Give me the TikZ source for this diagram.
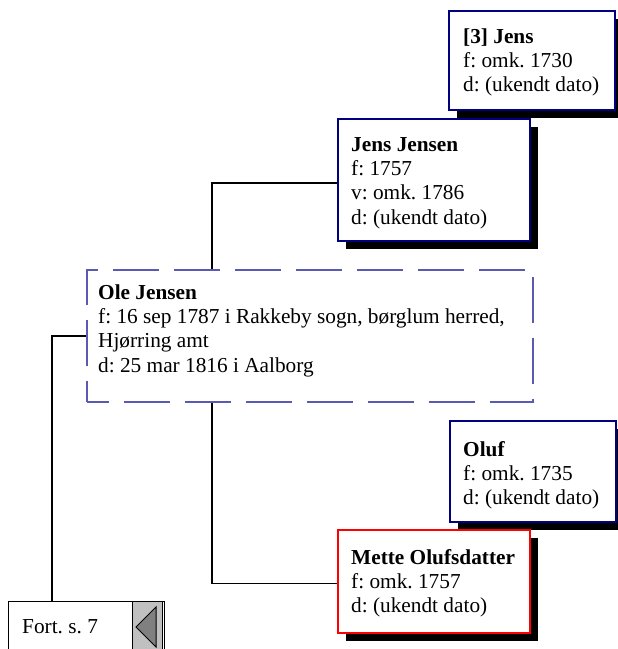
\documentclass[tikz,border=0pt]{standalone}
\usepackage{fontspec}
\setmainfont{Liberation Serif}
\usetikzlibrary{shadows}
\definecolor{navyb}{RGB}{0,0,128}
\definecolor{dashb}{RGB}{90,90,180}
\definecolor{redb}{RGB}{255,0,0}
\definecolor{btngrey}{RGB}{192,192,192}
\definecolor{trigrey}{RGB}{128,128,128}
\newcommand{\ptxt}[1]{\parbox[t]{460pt}{\frenchspacing\fontsize{21.3}{24.4}\selectfont #1}}
\begin{document}
\begin{tikzpicture}[x=1pt,y=-1pt,
  pbox/.style={rectangle, draw=navyb, line width=1.8pt, fill=white, inner sep=0pt, anchor=north west,
    drop shadow={shadow xshift=8pt, shadow yshift=-8pt, fill=black, opacity=1}},
  redbox/.style={pbox, draw=redb},
  dashbox/.style={rectangle, draw=dashb, line width=1.5pt, fill=white, inner sep=0pt, anchor=north west,
    dash pattern=on 46pt off 15pt, dash phase=24pt},
  ptext/.style={anchor=base west, inner sep=0pt},
  link/.style={draw=black, line width=1.5pt}]
\useasboundingbox (0,0) rectangle (618,649);

% boxes
\node[pbox, minimum width=166pt, minimum height=99pt] (b3) at (448,10) {};
\node[pbox, minimum width=192pt, minimum height=122pt] (jj) at (337,118) {};
\node[dashbox, minimum width=446pt, minimum height=132pt] (ole) at (86,269) {};
\node[pbox, minimum width=166pt, minimum height=101pt] (oluf) at (449,420) {};
\node[redbox, minimum width=192pt, minimum height=103pt] (mette) at (337,529) {};

% Fort. s. 7 box
\node[rectangle, draw=black, line width=1.3pt, fill=white, inner sep=0pt, anchor=north west,
  minimum width=156pt, minimum height=64pt] (fort) at (8,601) {};
\node[rectangle, draw=black, line width=1pt, fill=btngrey, inner sep=0pt, anchor=north west,
  minimum width=30pt, minimum height=64pt] (btn) at (132,601) {};
\draw[fill=trigrey, line width=1pt] (136,627) -- (156,607) -- (156,647) -- cycle;

% texts
\node[ptext] (t3) at (463,43) {\ptxt{\textbf{[3] Jens}\\f: omk. 1730\\d: (ukendt dato)}};
\node[ptext] (tjj) at (351,151) {\ptxt{\textbf{Jens Jensen}\\f: 1757\\v: omk. 1786\\d: (ukendt dato)}};
\node[ptext] (tole) at (98,299) {\ptxt{\textbf{Ole Jensen}\\f: 16 sep 1787 i Rakkeby sogn, børglum herred,\\Hjørring amt\\d: 25 mar 1816 i Aalborg}};
\node[ptext] (toluf) at (463,456) {\ptxt{\textbf{Oluf}\\f: omk. 1735\\d: (ukendt dato)}};
\node[ptext] (tmette) at (351,564) {\ptxt{\textbf{Mette Olufsdatter}\\f: omk. 1757\\d: (ukendt dato)}};
\node[ptext] (tfort) at (22,633) {\ptxt{Fort. s. 7}};

% connectors
\coordinate (ax) at (212,0);
\coordinate (fx) at (52,0);
\draw[link] (ole.north -| ax) |- ([yshift=-3pt]jj.west);
\draw[link] (ole.south -| ax) |- ([yshift=-2pt]mette.west);
\draw[link] (fort.north -| fx) |- (ole.west);
\end{tikzpicture}
\end{document}
